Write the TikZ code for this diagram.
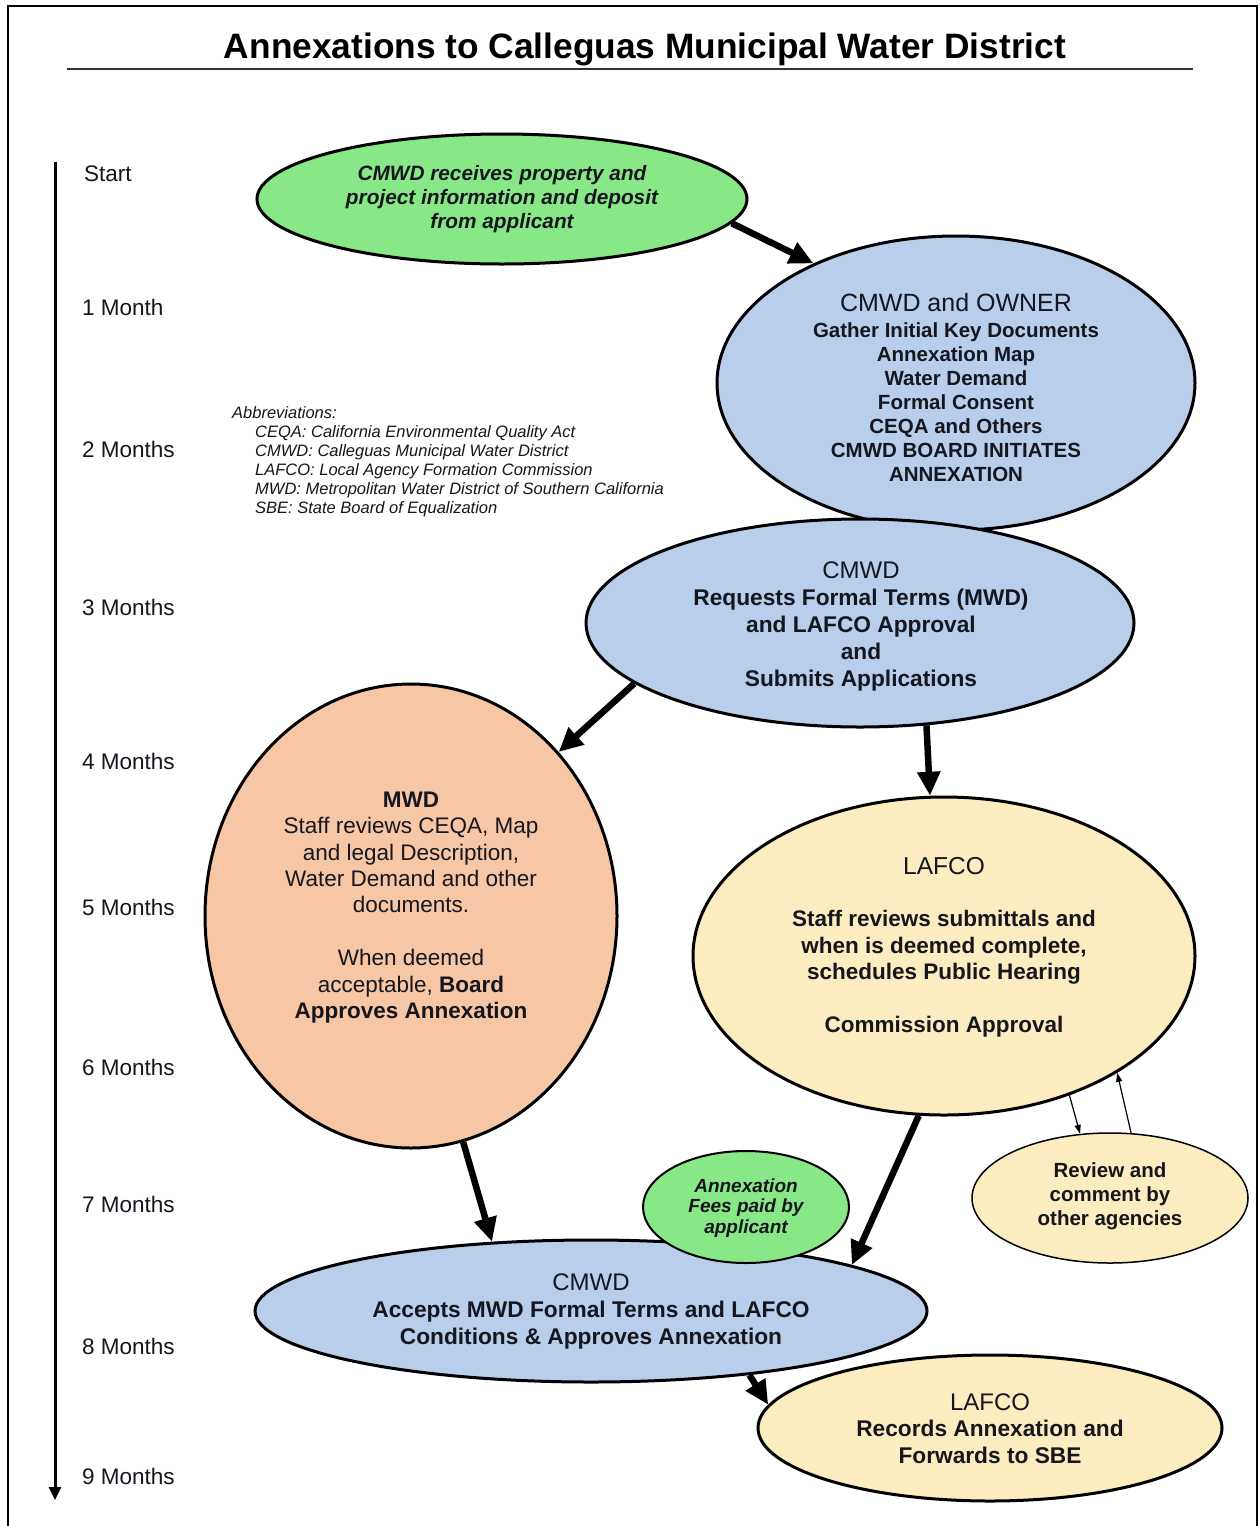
\documentclass[tikz,border=0pt]{standalone}
\usepackage{fontspec}
\setmainfont{Liberation Sans}
\usetikzlibrary{shapes.geometric, arrows.meta}
\definecolor{cgreen}{RGB}{136,232,136}
\definecolor{cblue}{RGB}{184,206,234}
\definecolor{cpeach}{RGB}{247,198,164}
\definecolor{ccream}{RGB}{252,237,192}
\definecolor{ctext}{RGB}{22,22,30}
\begin{document}
\begin{tikzpicture}[x=1pt,y=-1pt,
  ell/.style={ellipse, draw=black, line width=3pt, inner sep=0pt},
  txt/.style={align=center, inner sep=0pt, text=ctext},
  thickarrow/.style={line width=6.5pt, -{Triangle[length=24pt,width=22pt]}},
  thinarrow/.style={line width=1.2pt, -{Triangle[length=9pt,width=6pt]}},
  month/.style={anchor=mid west, font=\fontsize{22.5}{26}\selectfont, inner sep=0pt, text=ctext}]
\useasboundingbox (0,0) rectangle (1259,1526);
\fill[white] (0,0) rectangle (1259,1526);
\draw[line width=2.5pt] (8,1530) -- (8,6) -- (1257,6) -- (1257,1530);

% title
\node[anchor=base, inner sep=0pt, font=\bfseries\fontsize{35.3}{40}\selectfont] (title) at (645,58) {Annexations to Calleguas Municipal Water District};
\draw[line width=1.8pt, black!80] (67,69) -- (1193,69);

% timeline
\coordinate (tl0) at (55,162);
\coordinate (tl1) at (55,1500);
\draw[line width=3pt, -{Triangle[length=13pt,width=12pt]}] (tl0) -- (tl1);
\node[month] (m0) at (84,179) {Start};
\node[month] (m1) at (82,313) {1 Month};
\node[month] (m2) at (82,455) {2 Months};
\node[month] (m3) at (82,613) {3 Months};
\node[month] (m4) at (82,767) {4 Months};
\node[month] (m5) at (82,913) {5 Months};
\node[month] (m6) at (82,1073) {6 Months};
\node[month] (m7) at (82,1210) {7 Months};
\node[month] (m8) at (82,1352) {8 Months};
\node[month] (m9) at (82,1482) {9 Months};

% abbreviations
\node[anchor=north west, align=left, inner sep=0pt, text=ctext, font=\itshape\fontsize{16.5}{19}\selectfont] (abbr) at (232,406)
 {Abbreviations:\\
  \hspace*{23pt}CEQA: California Environmental Quality Act\\
  \hspace*{23pt}CMWD: Calleguas Municipal Water District\\
  \hspace*{23pt}LAFCO: Local Agency Formation Commission\\
  \hspace*{23pt}MWD: Metropolitan Water District of Southern California\\
  \hspace*{23pt}SBE: State Board of Equalization};

% ellipses
\node[ell, fill=cgreen, minimum width=490pt, minimum height=130pt] (e1) at (502,199) {};
\node[ell, fill=cblue, minimum width=478pt, minimum height=294pt] (e2) at (956,383) {};
\node[ell, fill=cblue, minimum width=548pt, minimum height=208pt] (e3) at (860,623) {};
\node[ell, fill=cpeach, minimum width=412pt, minimum height=464pt] (e4) at (411,916) {};
\node[ell, fill=ccream, minimum width=502pt, minimum height=318pt] (e5) at (944,956) {};
\node[ell, fill=ccream, line width=1.5pt, minimum width=276pt, minimum height=130pt] (rev) at (1110,1198) {};
\node[ell, fill=cblue, minimum width=672pt, minimum height=142pt] (e7) at (591,1311) {};
\node[ell, fill=cgreen, line width=2pt, minimum width=206pt, minimum height=112pt] (fees) at (746,1207) {};
\node[ell, fill=ccream, minimum width=464pt, minimum height=146pt] (e8) at (990,1428) {};

% texts
\node[txt, font=\bfseries\itshape\fontsize{20.8}{24}\selectfont] (t1) at (502,199)
 {CMWD receives property and\\project information and deposit\\from applicant};
\node[txt, font=\bfseries\fontsize{20.5}{24}\selectfont] (t2) at (956,388)
 {{\mdseries\fontsize{25}{27}\selectfont CMWD and OWNER}\\[2pt]
  Gather Initial Key Documents\\Annexation Map\\Water Demand\\Formal Consent\\CEQA and Others\\CMWD BOARD INITIATES\\ANNEXATION};
\node[txt, font=\bfseries\fontsize{22.7}{27}\selectfont] (t3) at (861,626)
 {{\mdseries\fontsize{24}{27}\selectfont CMWD}\\Requests Formal Terms (MWD)\\and LAFCO Approval\\and\\Submits Applications};
\node[txt, font=\fontsize{22.5}{26.4}\selectfont] (t4) at (411,907.5)
 {\textbf{MWD}\\Staff reviews CEQA, Map\\and legal Description,\\Water Demand and other\\documents.\\[26.4pt]When deemed\\acceptable, \textbf{Board}\\\textbf{Approves Annexation}};
\node[txt, font=\bfseries\fontsize{22.5}{26.3}\selectfont] (t5) at (944,947)
 {{\mdseries\fontsize{24.5}{26.3}\selectfont LAFCO}\\[26.3pt]Staff reviews submittals and\\when is deemed complete,\\schedules Public Hearing\\[26.3pt]Commission Approval};
\node[txt, font=\bfseries\fontsize{20.5}{24}\selectfont] (t6) at (1110,1196)
 {Review and\\comment by\\other agencies};
\node[txt, font=\bfseries\itshape\fontsize{19}{20.5}\selectfont] (t7) at (746,1208)
 {Annexation\\Fees paid by\\applicant};
\node[txt, font=\bfseries\fontsize{22.7}{27}\selectfont] (t8) at (591,1311.5)
 {{\mdseries\fontsize{24}{27}\selectfont CMWD}\\Accepts MWD Formal Terms and LAFCO\\Conditions \& Approves Annexation};
\node[txt, font=\bfseries\fontsize{22.7}{26.5}\selectfont] (t9) at (990,1428.5)
 {{\mdseries\fontsize{24}{26.5}\selectfont LAFCO}\\Records Annexation and\\Forwards to SBE};

% connectors
\draw[thickarrow] (e1.-6) -- (e2.140.7);
\draw[thickarrow] (e3.-165) -- (e4.48);
\draw[thickarrow] (e3.-57.5) -- (e5.95);
\draw[thickarrow] (e4.-77.4) -- (e7.145);
\draw[thickarrow] (e5.-99.8) -- (e7.10);
\draw[thickarrow] (e7.-22.2) -- (e8.174);
\draw[thinarrow] (e5.-48) -- (rev.115);
\draw[thinarrow] (rev.72) -- (e5.-34.7);
\end{tikzpicture}
\end{document}
